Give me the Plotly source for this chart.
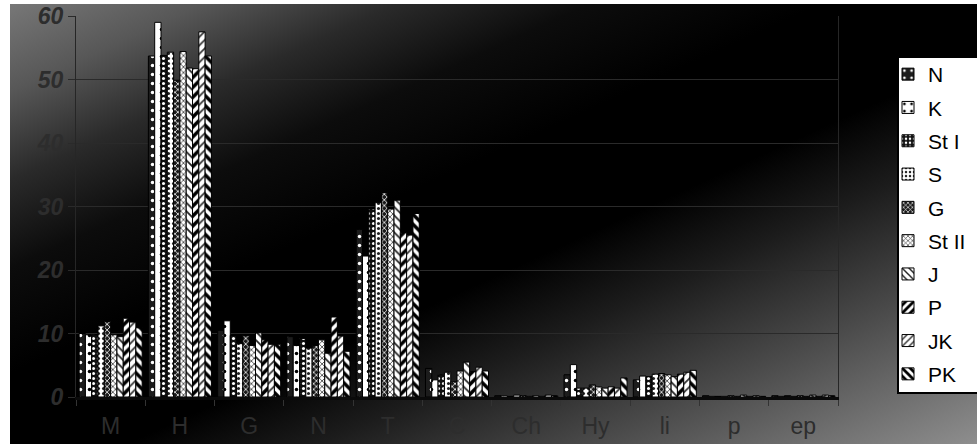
import base64
import plotly.graph_objects as go

categories = ["M", "H", "G", "N", "T", "C", "Ch", "Hy", "li", "p", "ep"]
series_names = ["N", "K", "St I", "S", "G", "St II", "J", "P", "JK", "PK"]

v_N = [10.0, 53.7, 10.5, 9.5, 26.4, 4.5, 0.2, 3.5, 2.7, 0.2, 0.2]
v_K = [9.8, 59.0, 12.0, 8.1, 22.2, 2.7, 0.2, 5.1, 3.3, 0.1, 0.1]
v_StI = [9.8, 53.8, 9.7, 9.2, 29.6, 3.5, 0.1, 1.4, 3.2, 0.1, 0.2]
v_S = [11.2, 54.3, 8.4, 7.7, 30.6, 3.9, 0.3, 1.4, 3.6, 0.1, 0.1]
v_G = [11.9, 49.8, 9.7, 8.1, 32.2, 2.4, 0.2, 1.9, 3.7, 0.2, 0.2]
v_StII = [9.8, 54.4, 8.1, 9.0, 29.6, 4.1, 0.1, 1.6, 3.5, 0.1, 0.1]
v_J = [9.5, 51.8, 10.1, 6.9, 31.0, 5.5, 0.2, 1.4, 3.2, 0.3, 0.3]
v_P = [12.4, 51.7, 9.0, 12.6, 25.9, 4.0, 0.1, 1.6, 3.6, 0.1, 0.1]
v_JK = [11.8, 57.5, 8.3, 9.6, 25.5, 4.7, 0.3, 1.4, 3.9, 0.2, 0.3]
v_PK = [10.9, 53.7, 8.3, 7.2, 28.9, 4.1, 0.2, 3.0, 4.2, 0.1, 0.2]

series_values = [v_N, v_K, v_StI, v_S, v_G, v_StII, v_J, v_P, v_JK, v_PK]

# pattern styles: (shape, bg, fg, size, solidity)
styles = [
    (".", "#1c1c1c", "#ffffff", 9, 0.12),
    (".", "#ffffff", "#000000", 9, 0.12),
    (".", "#111111", "#ffffff", 5, 0.3),
    (".", "#ffffff", "#222222", 5, 0.3),
    ("x", "#1a1a1a", "#ffffff", 4, 0.35),
    ("x", "#ffffff", "#333333", 4, 0.35),
    ("\\", "#ffffff", "#222222", 6, 0.3),
    ("/", "#ffffff", "#000000", 7, 0.5),
    ("/", "#ffffff", "#333333", 6, 0.3),
    ("\\", "#ffffff", "#000000", 7, 0.5),
]

fig = go.Figure()
for name, vals, st in zip(series_names, series_values, styles):
    shape, bg, fg, size, sol = st
    fig.add_trace(go.Bar(
        x=categories, y=vals, name=name, legendgroup=name,
        marker=dict(
            color=bg,
            line=dict(color="#000000", width=1),
            pattern=dict(shape=shape, bgcolor=bg, fgcolor=fg, size=size,
                         solidity=sol, fillmode="replace"),
        ),
    ))

W, H = 977, 444
ml, mr, mt, mb = 76, 139, 16, 47
pw = W - ml - mr
ph = H - mt - mb


def px_x(p):
    return (p - ml) / pw


def px_y(p):
    return (H - mb - p) / ph


svg = (
    '<svg xmlns="http://www.w3.org/2000/svg" width="967" height="440" '
    'viewBox="0 0 967 440" preserveAspectRatio="none">'
    '<defs><linearGradient id="g" x1="0" y1="0" x2="1" y2="1">'
    '<stop offset="0" stop-color="#777777"/>'
    '<stop offset="0.1" stop-color="#575757"/>'
    '<stop offset="0.2" stop-color="#2a2a2a"/>'
    '<stop offset="0.3" stop-color="#0c0c0c"/>'
    '<stop offset="0.42" stop-color="#000000"/>'
    '<stop offset="0.56" stop-color="#000000"/>'
    '<stop offset="0.66" stop-color="#1c1c1c"/>'
    '<stop offset="0.8" stop-color="#4a4a4a"/>'
    '<stop offset="1" stop-color="#8e8e8e"/>'
    '</linearGradient></defs>'
    '<rect x="0" y="0" width="967" height="440" fill="url(#g)"/></svg>'
)
src = "data:image/svg+xml;base64," + base64.b64encode(svg.encode()).decode()

fig.add_layout_image(dict(
    source=src, xref="paper", yref="paper",
    x=px_x(10), y=px_y(4), sizex=(W - 10) / pw, sizey=(H - 4) / ph,
    xanchor="left", yanchor="top", sizing="stretch", layer="below",
))

# legend box
fig.add_shape(type="rect", xref="paper", yref="paper",
              x0=px_x(898), x1=px_x(985), y0=px_y(393), y1=px_y(57),
              fillcolor="#ffffff", line=dict(color="#000000", width=2),
              layer="above")

tick_color = "#2d2d2d"
fig.update_layout(
    width=W, height=H,
    margin=dict(l=ml, r=mr, t=mt, b=mb, autoexpand=False),
    paper_bgcolor="#ffffff",
    plot_bgcolor="rgba(0,0,0,0)",
    barmode="group", bargap=0.09, bargroupgap=0,
    font=dict(family="Liberation Sans, Arial, sans-serif"),
    showlegend=True,
    legend=dict(
        x=px_x(888), y=px_y(54), xanchor="left", yanchor="top",
        bgcolor="rgba(0,0,0,0)", borderwidth=0,
        font=dict(size=21, color="#000000"),
        traceorder="grouped", tracegroupgap=3,
    ),
    xaxis=dict(
        type="category", showgrid=False, automargin=False,
        showline=True, linecolor="#0a0a0a", linewidth=3,
        ticks="outside", tickson="boundaries", ticklen=6, tickcolor="#333333",
        tickfont=dict(size=23, color=tick_color),
        ticklabelstandoff=6,
    ),
    yaxis=dict(
        range=[0, 60], dtick=10, showgrid=True, gridcolor="#2a2a2a", gridwidth=1,
        automargin=False,
        zeroline=False, showline=True, mirror=True, linecolor="#262626", linewidth=1,
        ticks="outside", ticklen=7, tickcolor="#2a2a2a",
        tickfont=dict(size=23, color=tick_color, weight="bold", style="italic"),
    ),
)

fig.write_html("out.html")
